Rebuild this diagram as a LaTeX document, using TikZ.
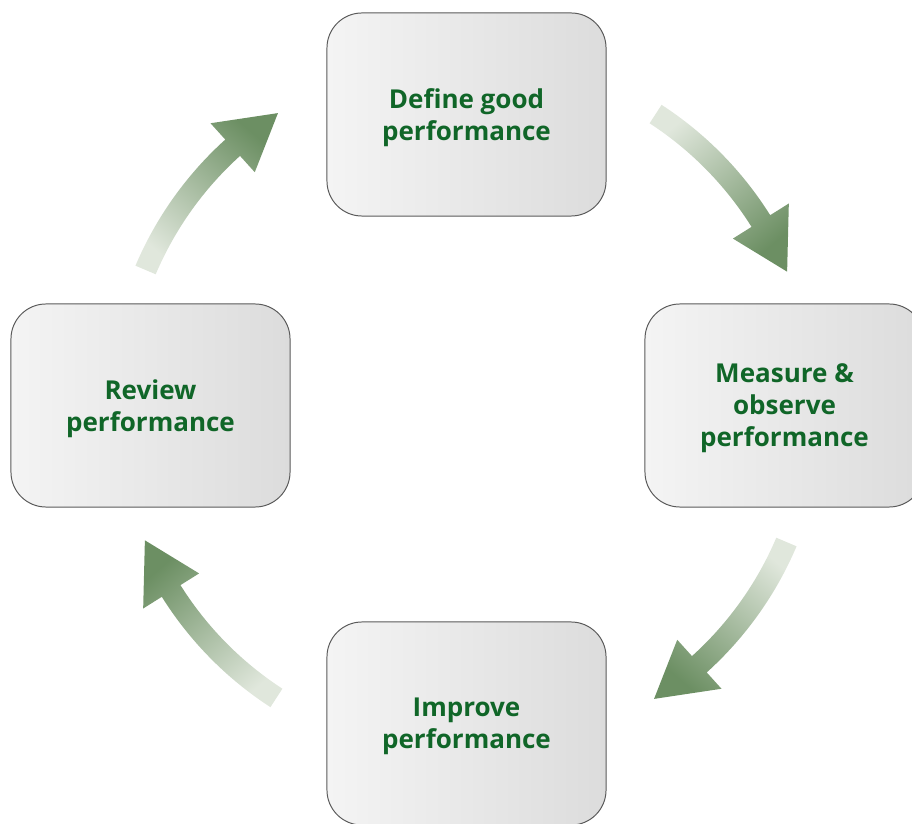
\documentclass[tikz,border=0pt]{standalone}
\usepackage{fontspec}
\setmainfont{Open Sans}
\usetikzlibrary{calc}

\definecolor{boxlight}{RGB}{244,244,244}
\definecolor{boxdark}{RGB}{220,220,220}
\definecolor{boxline}{RGB}{90,90,90}
\definecolor{textgreen}{RGB}{16,102,40}
\definecolor{arrowlight}{RGB}{224,231,220}
\definecolor{arrowdark}{RGB}{108,143,99}

\newcommand{\cyclearrow}[2]{%
\path[arrowshade, shading angle=#2]
  ($(c)+(#1:8.975cm)$) arc[start angle=#1, end angle=#1-24.9, radius=8.975cm]
  -- ($(c)+(#1-24.9:9.525cm)$) -- ($(c)+(#1-34.3:8.7cm)$) -- ($(c)+(#1-24.9:7.875cm)$)
  -- ($(c)+(#1-24.9:8.425cm)$) arc[start angle=#1-24.9, end angle=#1, radius=8.425cm] -- cycle;}

\begin{document}
\begin{tikzpicture}[x=0.025cm, y=0.025cm,
  stagebox/.style={rectangle, rounded corners=0.875cm, draw=boxline, line width=0.7pt,
    left color=boxlight, right color=boxdark, minimum width=6.975cm, minimum height=5.075cm,
    align=center, text=textgreen, font=\fontsize{18.5}{22.8}\selectfont\bfseries,
    text depth=-5pt},
  arrowshade/.style={top color=arrowdark, bottom color=arrowlight}]
\useasboundingbox (0,0) rectangle (912,823);
\clip (0,0) rectangle (912,823);
\coordinate (c) at (466,417);
\node[stagebox] (define) at (466.5,708.5) {Define good\\performance};
\node[stagebox] (measure) at (784.5,417.5) {Measure \&\\observe\\performance};
\node[stagebox] (improve) at (466.5,99.5) {Improve\\performance};
\node[stagebox] (review) at (150.5,417.5) {Review\\performance};
\cyclearrow{57}{-140}
\cyclearrow{337}{139.4}
\cyclearrow{237}{40.8}
\cyclearrow{157}{-40.2}
\end{tikzpicture}
\end{document}
